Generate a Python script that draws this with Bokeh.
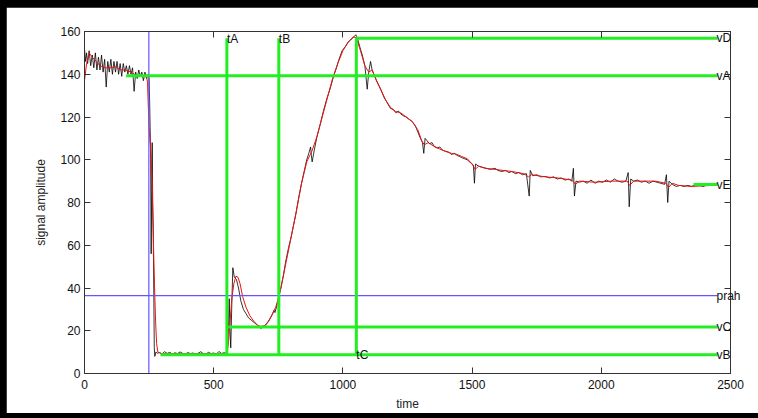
from bokeh.plotting import figure
from bokeh.models import LinearAxis, FixedTicker, Range1d, Label
from bokeh.embed import file_html
from bokeh.resources import INLINE

# ---------------- data ----------------
sig_t = [0, 4, 8, 12, 18, 24, 30, 36, 42, 48, 54, 60, 66, 72, 78, 84, 90, 96, 102, 108,
         114, 120, 126, 132, 138, 144, 150, 156, 162, 168, 174, 180, 186, 192, 198, 204,
         210, 216, 222, 228, 234, 240, 246, 250,
         252, 254, 256, 258, 260, 262, 264, 266, 268, 270, 272, 276, 282,
         290, 300, 310, 320, 330, 340, 350, 360, 370, 380, 390, 400, 410, 420, 430, 440,
         450, 460, 470, 480, 490, 500, 510, 520, 530, 540, 548,
         552, 556, 560, 563, 566, 570, 574, 580, 588, 596, 605, 615, 625, 635, 645, 655,
         665, 675, 684, 692, 700, 710, 720, 728, 733, 737, 745, 752,
         760, 770, 778, 790, 800, 810, 817, 830, 840, 849, 860, 868, 875, 878, 881, 890,
         900, 913, 925, 939, 950, 965, 975, 985, 997, 1010, 1020, 1030, 1042, 1050, 1056,
         1065, 1075, 1085, 1094, 1100, 1107, 1113, 1120, 1130, 1146, 1160, 1170, 1184,
         1195, 1205, 1215, 1223, 1235, 1245, 1255, 1267, 1280, 1290, 1300, 1308, 1313,
         1318, 1325, 1335, 1345, 1355, 1365, 1375, 1385, 1396, 1410, 1420, 1432, 1442,
         1452, 1460, 1470, 1481, 1495, 1505, 1509, 1513, 1525, 1540, 1555, 1570, 1589,
         1600, 1615, 1630, 1642, 1654, 1668, 1680, 1695, 1710, 1721, 1725, 1735, 1750,
         1765, 1783, 1800, 1815, 1830, 1845, 1860, 1875, 1886, 1892, 1896, 1902, 1915,
         1930, 1945, 1960, 1976, 1990, 2005, 2020, 2035, 2050, 2065, 2080, 2095, 2104,
         2108, 2114, 2125, 2140, 2155, 2170, 2185, 2200, 2215, 2230, 2245, 2252, 2257,
         2262, 2275, 2290, 2305, 2320, 2335, 2350, 2365, 2380, 2395, 2410, 2428, 2445]
sig_v = [152, 146, 150, 145, 151, 144, 149, 143, 150, 142, 148, 142, 149, 141, 147, 134,
         146, 141, 147, 140, 146, 141, 146, 140, 145, 139, 145, 141, 144, 140, 144, 140,
         143, 132, 141, 138, 142, 139, 141, 137, 141, 138, 140, 138,
         128, 115, 100, 56, 85, 108, 80, 68, 40, 12, 8, 10, 9.5,
         9.8, 9.2, 10.2, 9.4, 9.9, 9.1, 9.7, 9.3, 10.1, 9.4, 9.0, 9.8, 9.3, 9.6, 9.0, 9.5,
         10.2, 9.2, 9.1, 9.9, 9.3, 9.6, 9.0, 10.3, 9.4, 9.7, 9.5,
         10, 16, 35, 20, 12, 32, 49.5, 45, 44, 40, 34, 30, 28, 26, 25, 24,
         23, 22, 21, 22, 22.5, 24, 26, 28, 29.5, 28.5, 32, 36,
         40, 46, 52, 59, 64, 70, 74, 83, 89, 94, 100, 103, 106, 102, 99, 105,
         111, 117, 123, 129, 133, 139.5, 143, 147, 151, 153, 155, 156, 157.5, 158.5, 157,
         153, 149, 144, 133, 141, 146, 142, 140, 137, 133, 129, 127, 124,
         123.5, 122, 122.8, 121.5, 120.5, 120, 119, 118, 116, 113, 110, 108, 103,
         110, 109, 107.5, 108, 106, 105.5, 106, 104.5, 104, 103.5, 102.5, 103, 102,
         101.5, 101, 100.5, 100, 98.5, 97.5, 89, 98, 97, 96.5, 96, 95.5, 96,
         95, 94.5, 95, 94, 94.5, 93.5, 94, 93, 93.5, 83, 95, 92.5, 93,
         92, 92.2, 91.5, 92, 91, 91.5, 90.5, 91, 90, 96, 83, 90, 89.5,
         90, 89, 90.5, 89, 90, 89.5, 90.5, 89.5, 91, 90, 89.5, 90, 94,
         78, 91, 90, 90.5, 89.5, 90, 89, 90, 89.5, 89, 88.5, 93, 80,
         90, 88.5, 87.5, 88, 87.5, 88, 87.5, 88.5, 88, 87.5, 88.5, 88, 88.5]

smooth_t = [0, 8, 18, 30, 45, 60, 80, 100, 120, 140, 160, 180, 200, 220, 240, 244, 246,
            250, 256, 262, 265, 268, 271, 275, 279, 284, 300, 350, 400, 450, 500, 550,
            556, 562, 570, 578, 586, 594, 602, 612, 625, 640, 655, 670, 684, 698, 712,
            726, 740, 752, 760, 780, 800, 820, 840, 860, 880, 900, 920, 940, 960, 980,
            1000, 1020, 1040, 1052, 1068, 1085, 1100, 1113, 1130, 1146, 1165, 1184, 1205,
            1223, 1245, 1267, 1290, 1305, 1315, 1330, 1350, 1375, 1396, 1420, 1442, 1460,
            1481, 1500, 1512, 1525, 1550, 1589, 1620, 1654, 1700, 1718, 1730, 1783, 1830,
            1886, 1900, 1915, 1976, 2041, 2100, 2110, 2125, 2170, 2208, 2250, 2260, 2275,
            2299, 2350, 2428]
smooth_v = [137, 145, 150, 148, 146, 144, 143, 143, 143.5, 142, 142, 141, 139.5, 139, 139,
            136, 128, 115, 105, 90, 70, 55, 41, 25, 14, 10, 9.2, 9.3, 9.2, 9.3, 9.2, 9.2,
            13, 22, 35, 42, 45.5, 45, 42, 36, 31, 27, 24.5, 22.5, 22, 22.5, 24.5,
            27.5, 31, 36, 40, 52, 64, 76, 89, 99, 104, 111, 120, 129, 138, 145,
            151, 155, 157.5, 157, 151, 144, 141, 142, 137, 133, 128, 124.5, 122.5,
            122, 120, 118, 114, 109, 107, 108, 106.5, 105, 104, 103, 102.5, 101.5,
            100.5, 98, 95.5, 97, 96, 95.5, 95, 94.5, 93.5, 92, 93, 92, 91.5,
            90.5, 88.5, 90, 89.5, 90, 90, 88, 90, 90, 90, 89, 87, 89,
            88, 87.5, 88]

t_start = 249            # blue vertical marker
prah = 36.4              # threshold level
tA, tB, tC = 551, 752, 1052
vA, vB, vC, vD, vE = 139.3, 8.8, 21.7, 156.8, 88.4
vA_from, vB_from, vC_from, vE_from = 161, 294, 556, 2357
t_end = 2450

x_ticks = [0, 500, 1000, 1500, 2000, 2500]
y_ticks = [0, 20, 40, 60, 80, 100, 120, 140, 160]

marker_names_t = ["tA", "tB", "tC"]
marker_names_v = ["vD", "vA", "prah", "vC", "vB", "vE"]
marker_levels_v = [vD, vA, prah, vC, vB, vE]

GREEN = "#22ee22"
BLUE = "#6655ff"
FONT = "Liberation Sans"
AXC = "#333333"

# ---------------- figure ----------------
p = figure(width=752, height=406, output_backend="svg", toolbar_location=None,
           x_range=Range1d(0, 2500), y_range=Range1d(0, 160),
           min_border_left=78, min_border_right=28, min_border_top=24, min_border_bottom=38)
p.background_fill_color = "white"
p.border_fill_color = "white"
p.outline_line_color = AXC
p.grid.visible = False

for ax in (p.xaxis[0], p.yaxis[0]):
    ax.major_tick_in = 6
    ax.major_tick_out = 0
    ax.minor_tick_line_color = None
    ax.axis_line_color = AXC
    ax.major_tick_line_color = AXC
    ax.major_label_text_font = FONT
    ax.major_label_text_font_size = "12px"
    ax.major_label_text_color = "#111111"
    ax.axis_label_text_font = FONT
    ax.axis_label_text_font_size = "12px"
    ax.axis_label_text_font_style = "normal"
    ax.axis_label_text_color = "#222222"
p.xaxis[0].ticker = FixedTicker(ticks=x_ticks)
p.yaxis[0].ticker = FixedTicker(ticks=y_ticks)
p.xaxis[0].axis_label = "time"
p.yaxis[0].axis_label = "signal amplitude"
p.xaxis[0].major_label_standoff = 6
p.yaxis[0].major_label_standoff = 4
p.xaxis[0].axis_label_standoff = 5
p.yaxis[0].axis_label_standoff = 9

top = LinearAxis(ticker=FixedTicker(ticks=x_ticks), major_label_text_color=None,
                 major_tick_in=6, major_tick_out=0, minor_tick_line_color=None,
                 axis_line_color=AXC, major_tick_line_color=AXC,
                 major_label_text_font_size="1px", major_label_standoff=0)
right = LinearAxis(ticker=FixedTicker(ticks=y_ticks), major_label_text_color=None,
                   major_tick_in=6, major_tick_out=0, minor_tick_line_color=None,
                   axis_line_color=AXC, major_tick_line_color=AXC,
                   major_label_text_font_size="1px", major_label_standoff=0)
p.add_layout(top, "above")
p.add_layout(right, "right")

# value-marker names drawn as tick labels of an extra right axis (not clipped)
names_axis = LinearAxis(ticker=FixedTicker(ticks=marker_levels_v),
                        major_label_overrides=dict(zip(marker_levels_v, marker_names_v)),
                        axis_line_color=None, major_tick_line_color=None,
                        minor_tick_line_color=None, major_tick_in=0, major_tick_out=0,
                        major_label_standoff=-14, major_label_text_font=FONT,
                        major_label_text_font_size="12px", major_label_text_color="#111111")
p.add_layout(names_axis, "right")

# signal (raw) and smoothed
p.line(sig_t, sig_v, line_color="#000000", line_width=0.8)
p.line(smooth_t, smooth_v, line_color="#ee1111", line_width=1)

# blue markers
p.line([t_start, t_start], [0, 160], line_color=BLUE, line_width=1.2)
p.line([0, t_end], [prah, prah], line_color=BLUE, line_width=1.2)

# green markers
gw = 3
p.line([vA_from, t_end], [vA, vA], line_color=GREEN, line_width=gw)
p.line([vB_from, t_end], [vB, vB], line_color=GREEN, line_width=gw)
p.line([vC_from, t_end], [vC, vC], line_color=GREEN, line_width=gw)
p.line([tC, t_end], [vD, vD], line_color=GREEN, line_width=gw)
p.line([vE_from, t_end], [vE, vE], line_color=GREEN, line_width=gw)
for tx in (tA, tB, tC):
    p.line([tx, tx], [vB, vD], line_color=GREEN, line_width=gw)

# time-marker names
for name, lx, ly in zip(marker_names_t, [tA, tB, tC], [vD - 0.5, vD - 0.5, vB]):
    p.add_layout(Label(x=lx, y=ly, text=name, text_font=FONT, text_font_size="12px",
                       text_color="#111111", text_align="left", text_baseline="middle"))

html = file_html(p, INLINE)
style = ("<style>html{background-color:#000000 !important;}"
         "body{background-color:#000000 !important;margin:7px 0 0 6px !important;}</style>")
i = html.find("<head>")
html = html[:i + 6] + style + html[i + 6:]
open("out.html", "w").write(html)
